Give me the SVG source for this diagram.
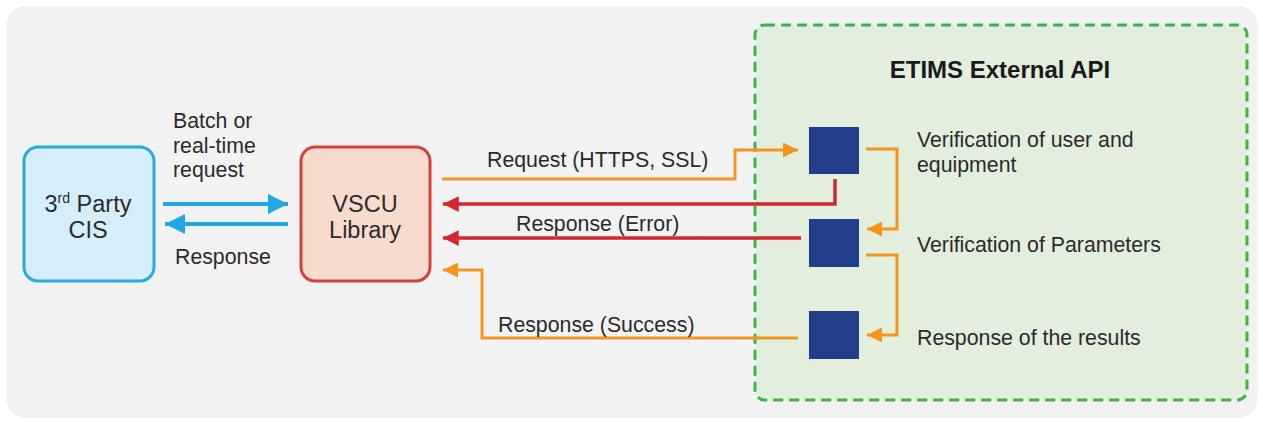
<svg xmlns="http://www.w3.org/2000/svg" width="1263" height="422" viewBox="0 0 1263 422">
<style>
text{font-family:"Liberation Sans",Arial,sans-serif;fill:#2b2b2b;font-size:21.3px}
.big{font-size:23.5px}
.title{font-weight:bold;font-size:24px;fill:#1a1a1a}
.blue{stroke:#1fa8e3;stroke-width:4;fill:none}
.red{stroke:#d3262e;stroke-width:3.5;fill:none}
.org{stroke:#f7941d;stroke-width:3;fill:none}
.sq{fill:#233f8c}
</style>
<defs>
<marker id="ab" viewBox="0 0 10 10" refX="10" refY="5" markerWidth="5" markerHeight="5" orient="auto" markerUnits="strokeWidth"><path d="M0,0 L10,5 L0,10 z" fill="#1fa8e3"/></marker>
<marker id="ar" viewBox="0 0 10 10" refX="10" refY="5" markerWidth="4.5" markerHeight="4.5" orient="auto" markerUnits="strokeWidth"><path d="M0,0 L10,5 L0,10 z" fill="#d3262e"/></marker>
<marker id="ao" viewBox="0 0 10 10" refX="10" refY="5" markerWidth="5" markerHeight="5" orient="auto" markerUnits="strokeWidth"><path d="M0,0 L10,5 L0,10 z" fill="#f7941d"/></marker>
</defs>
<rect x="0" y="0" width="1263" height="422" fill="#ffffff"/>
<rect x="6" y="6" width="1252" height="412" rx="20" fill="#f2f2f2"/>
<g id="etims">
<rect x="755" y="25" width="492" height="375" rx="10" fill="#e3efdd" stroke="#3bb44a" stroke-width="3" stroke-dasharray="10,6"/>
<text class="title" x="1000" y="78" text-anchor="middle">ETIMS External API</text>
</g>
<g id="cis">
<rect x="24" y="147" width="130" height="134" rx="14" fill="#d6eefa" stroke="#29abe2" stroke-width="3"/>
<text class="big" x="88" y="212" text-anchor="middle">3<tspan font-size="14" dy="-9">rd</tspan><tspan dy="9"> Party</tspan></text>
<text class="big" x="88" y="238" text-anchor="middle">CIS</text>
</g>
<g id="vscu">
<rect x="301" y="147" width="129" height="134" rx="14" fill="#f8dbcf" stroke="#d6403a" stroke-width="3"/>
<text class="big" x="365" y="212" text-anchor="middle">VSCU</text>
<text class="big" x="365" y="238" text-anchor="middle">Library</text>
</g>
<g id="step1">
<rect class="sq" x="809" y="127" width="50" height="47"/>
<text x="917" y="147">Verification of user and</text>
<text x="917" y="172">equipment</text>
</g>
<g id="step2">
<rect class="sq" x="809" y="219" width="50" height="48"/>
<text x="917" y="252">Verification of Parameters</text>
</g>
<g id="step3">
<rect class="sq" x="809" y="311" width="50" height="48"/>
<text x="917" y="345">Response of the results</text>
</g>
<g id="connectors">
<line class="blue" x1="163" y1="204" x2="288" y2="204" marker-end="url(#ab)"/>
<line class="blue" x1="288" y1="224" x2="165" y2="224" marker-end="url(#ab)"/>
<text x="173" y="128">Batch or</text>
<text x="173" y="153">real-time</text>
<text x="173" y="177">request</text>
<text x="175" y="264">Response</text>
<polyline class="org" points="442,179 735,179 735,150 798,150" marker-end="url(#ao)"/>
<text x="487" y="167">Request (HTTPS, SSL)</text>
<polyline class="red" points="835,179 835,204 443,204" marker-end="url(#ar)"/>
<line class="red" x1="801" y1="238" x2="443" y2="238" marker-end="url(#ar)"/>
<text x="516" y="231">Response (Error)</text>
<polyline class="org" points="798,338 482,338 482,270 443,270" marker-end="url(#ao)"/>
<text x="498" y="332">Response (Success)</text>
<polyline class="org" points="866,149 897,149 897,229 867,229" marker-end="url(#ao)"/>
<polyline class="org" points="866,255 897,255 897,335 867,335" marker-end="url(#ao)"/>
</g>
</svg>
